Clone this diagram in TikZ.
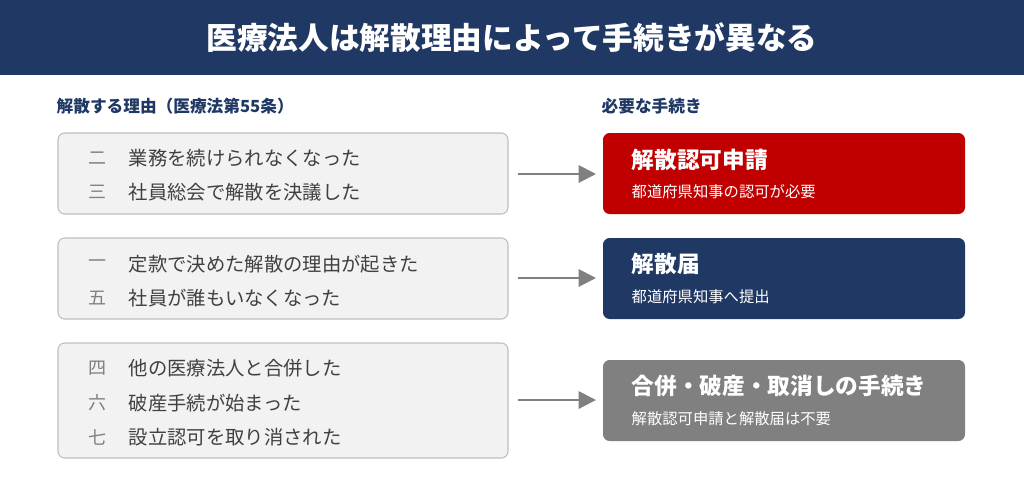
\documentclass[tikz,border=0pt]{standalone}
\usepackage{fontspec}
\setmainfont{Noto Sans CJK JP}
\usetikzlibrary{positioning}
\usetikzlibrary{arrows.meta}

\definecolor{navy}{RGB}{31,56,100}
\definecolor{darkred}{RGB}{192,0,0}
\definecolor{midgray}{RGB}{128,128,128}
\definecolor{boxgray}{RGB}{242,242,242}
\definecolor{linegray}{RGB}{190,190,190}
\definecolor{textgray}{RGB}{64,64,64}

\begin{document}
\begin{tikzpicture}[%
  x=0.75pt, y=-0.75pt,
  >={Triangle[length=13pt,width=13pt]},
  reason/.style={draw=linegray, fill=boxgray, rounded corners=5pt, line width=0.8pt},
  proc/.style={rounded corners=5pt},
  num/.style={anchor=west, text=midgray, font=\fontsize{13.5}{15}\selectfont},
  item/.style={anchor=west, text=textgray, font=\fontsize{14.5}{16}\selectfont},
  ptitle/.style={anchor=west, text=white, font=\bfseries\fontsize{17}{19}\selectfont},
  psub/.style={anchor=west, text=white, font=\fontsize{11.5}{13}\selectfont},
  head/.style={anchor=west, text=navy, font=\bfseries\fontsize{12.5}{14}\selectfont},
  link/.style={->, draw=midgray, line width=1.5pt},
]
  \useasboundingbox (0,0) rectangle (1024,494);

  % header
  \fill[navy] (0,0) rectangle (1024,75);
  \node[text=white, font=\bfseries\fontsize{23}{26}\selectfont] (title) at (512,38)
    {医療法人は解散理由によって手続きが異なる};

  \node[head] (lhead) at (52,106) {解散する理由（医療法第55条）};
  \node[head] (rhead) at (597,106) {必要な手続き};

  % reasons
  \draw[reason] (58,133) rectangle (508,214);
  \draw[reason] (58,238) rectangle (508,319);
  \draw[reason] (58,343) rectangle (508,458);

  \node[num] (n2) at (84,158) {二};
  \node[item] (r2) at (124,158) {業務を続けられなくなった};
  \node[num] (n3) at (84,192) {三};
  \node[item] (r3) at (124,192) {社員総会で解散を決議した};

  \node[num] (n1) at (84,264) {一};
  \node[item] (r1) at (124,264) {定款で決めた解散の理由が起きた};
  \node[num] (n5) at (84,298) {五};
  \node[item] (r5) at (124,298) {社員が誰もいなくなった};

  \node[num] (n4) at (84,368) {四};
  \node[item] (r4) at (124,368) {他の医療法人と合併した};
  \node[num] (n6) at (84,403) {六};
  \node[item] (r6) at (124,403) {破産手続が始まった};
  \node[num] (n7) at (84,437) {七};
  \node[item] (r7) at (124,437) {設立認可を取り消された};

  % procedures
  \fill[proc, darkred] (603,133) rectangle (965,214);
  \fill[proc, navy] (603,238) rectangle (965,319);
  \fill[proc, midgray] (603,360) rectangle (965,441);

  \node[ptitle] (p1) at (627,160) {解散認可申請};
  \node[psub] (s1) at (627,192) {都道府県知事の認可が必要};
  \node[ptitle] (p2) at (627,264) {解散届};
  \node[psub] (s2) at (627,297) {都道府県知事へ提出};
  \node[ptitle] (p3) at (627,386) {合併・破産・取消しの手続き};
  \node[psub] (s3) at (627,419) {解散認可申請と解散届は不要};

  % arrows
  \coordinate (a1) at (518,174); \coordinate (b1) at (596,174);
  \coordinate (a2) at (518,278); \coordinate (b2) at (596,278);
  \coordinate (a3) at (518,400); \coordinate (b3) at (596,400);
  \draw[link] (a1) -- (b1);
  \draw[link] (a2) -- (b2);
  \draw[link] (a3) -- (b3);

\end{tikzpicture}
\end{document}
